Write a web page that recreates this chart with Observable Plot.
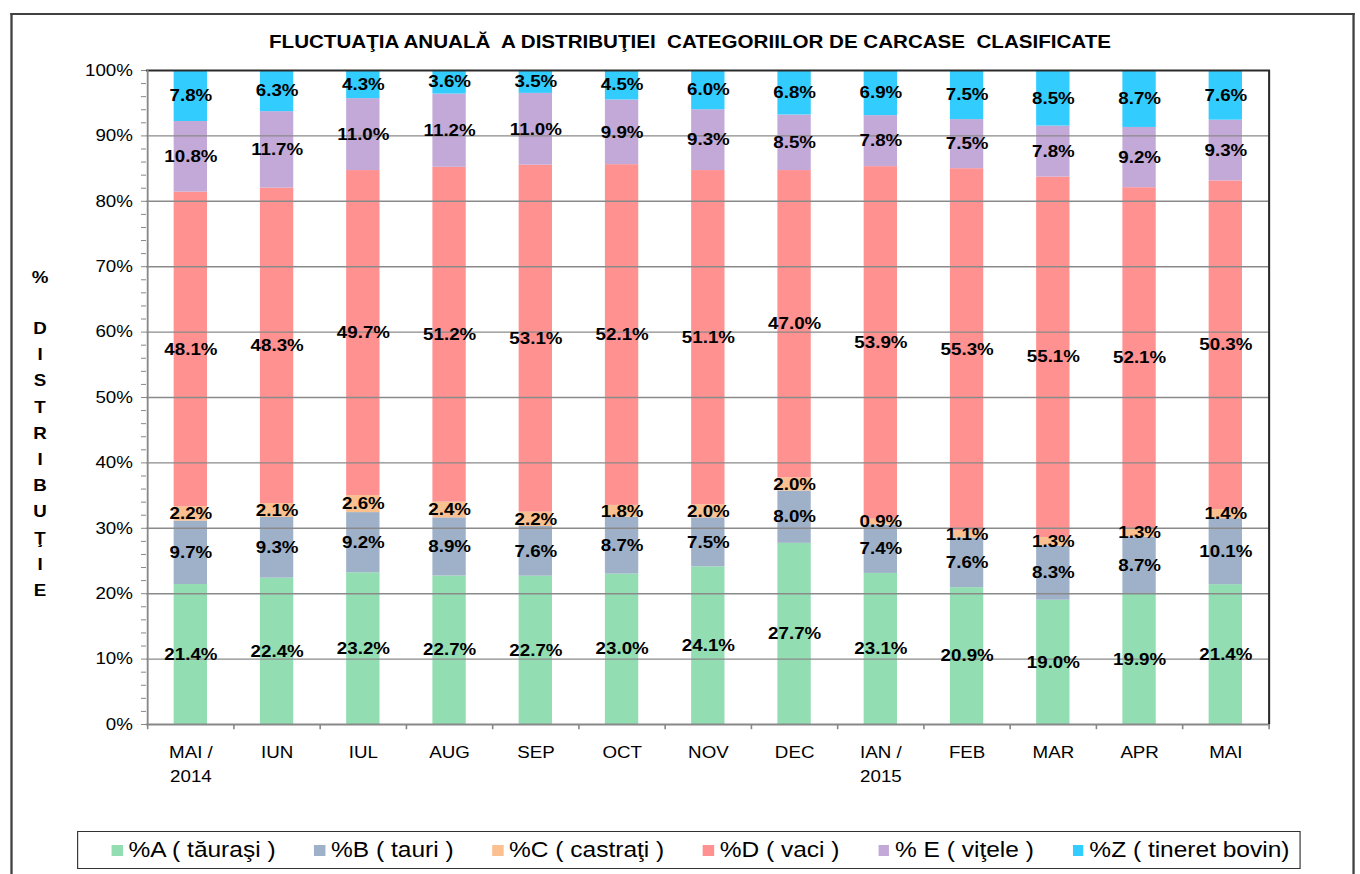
<!DOCTYPE html>
<html><head><meta charset="utf-8">
<script src="https://cdn.jsdelivr.net/npm/d3@7"></script>
<script src="https://cdn.jsdelivr.net/npm/@observablehq/plot@0.6"></script>
<style>
html,body{margin:0;padding:0;background:#fff;overflow:hidden;}
#page{position:relative;width:1182.6px;height:874px;transform:scaleX(1.15);transform-origin:0 0;font-family:"Liberation Sans",Arial,sans-serif;color:#000;}
#frame{position:absolute;left:8.7px;top:13px;width:1169.6px;height:900px;border:2px solid #404040;border-bottom:none;box-sizing:border-box;}
#title{position:absolute;left:0;width:1200px;top:31px;line-height:22px;text-align:center;font-weight:bold;font-size:17.9px;white-space:pre;}
.ylet{position:absolute;left:24.8px;width:20px;text-align:center;font-weight:bold;font-size:16.3px;line-height:20px;}
#chart{position:absolute;left:0;top:0;}
#legend{position:absolute;left:67px;top:831px;width:1063.5px;height:38px;border:1.5px solid #333;box-sizing:border-box;display:flex;align-items:center;padding-left:29px;font-size:21.3px;}
.item{display:flex;align-items:center;margin-right:33.5px;white-space:pre;}
.sw{width:9.6px;height:11px;margin-right:5.2px;}
svg [aria-label="y-axis"] line, svg [aria-label="y-axis"] path.domain, svg [aria-label="y-axis tick"]{stroke:#888 !important;}
</style></head>
<body><div id="page"><div id="frame"></div><div id="title"></div><div id="ylab"></div><div id="chart"></div><div id="legend"></div></div>
<script>
const titleText = "FLUCTUAŢIA ANUALĂ  A DISTRIBUŢIEI  CATEGORIILOR DE CARCASE  CLASIFICATE";
const yLabelLetters = ["%", "D","I","S","T","R","I","B","U","Ţ","I","E"];
const months = ["MAI /\n2014","IUN","IUL","AUG","SEP","OCT","NOV","DEC","IAN /\n2015","FEB","MAR","APR","MAI"];
const seriesNames = ["%A ( tăuraşi )","%B ( tauri )","%C ( castraţi )","%D ( vaci )","% E ( viţele )","%Z ( tineret bovin)"];
const seriesColors = ["#92DDB2","#9FB1C8","#FAC08F","#FF9191","#C3A9D8","#33CCFF"];
const A = [21.4,22.4,23.2,22.7,22.7,23.0,24.1,27.7,23.1,20.9,19.0,19.9,21.4];
const B = [9.7,9.3,9.2,8.9,7.6,8.7,7.5,8.0,7.4,7.6,8.3,8.7,10.1];
const C = [2.2,2.1,2.6,2.4,2.2,1.8,2.0,2.0,0.9,1.1,1.3,1.3,1.4];
const D = [48.1,48.3,49.7,51.2,53.1,52.1,51.1,47.0,53.9,55.3,55.1,52.1,50.3];
const E = [10.8,11.7,11.0,11.2,11.0,9.9,9.3,8.5,7.8,7.5,7.8,9.2,9.3];
const Z = [7.8,6.3,4.3,3.6,3.5,4.5,6.0,6.8,6.9,7.5,8.5,8.7,7.6];
const yMajorTicks = [0,10,20,30,40,50,60,70,80,90,100];
const yMinorStep = 2;

const seriesValues = [A,B,C,D,E,Z];
const rows = [];
seriesValues.forEach((vals, s) => vals.forEach((v, i) => rows.push({month: months[i], series: seriesNames[s], value: v})));

document.getElementById("title").textContent = titleText;
const ylab = document.getElementById("ylab");
yLabelLetters.forEach((ch, i) => {
  const d = document.createElement("div");
  d.className = "ylet";
  const cy = i === 0 ? 277 : 328 + (i - 1) * 26.2;
  d.style.top = (cy - 10) + "px";
  d.textContent = ch;
  ylab.appendChild(d);
});
const legend = document.getElementById("legend");
seriesNames.forEach((n, i) => {
  const it = document.createElement("div"); it.className = "item";
  const sw = document.createElement("div"); sw.className = "sw"; sw.style.background = seriesColors[i];
  const t = document.createElement("span"); t.textContent = n;
  it.appendChild(sw); it.appendChild(t); legend.appendChild(it);
});

const W = 1182.6, H = 800, ML = 126.96, MR = 78.26, MT = 70, MB = 76;
const step = (W - ML - MR) / months.length;
const bw = 29.57;
const pIn = 1 - bw / step;
const minorTicks = d3.range(0, 101, yMinorStep).map(v => v / 100);
const gridVals = yMajorTicks.filter(v => v > 0 && v < 100).map(v => v / 100);

const chart = Plot.plot({
  width: W, height: H, marginLeft: ML, marginRight: MR, marginTop: MT, marginBottom: MB,
  style: {fontFamily: '"Liberation Sans", Arial, sans-serif', fontSize: "16.3px", color: "#000", background: "transparent", overflow: "visible"},
  x: {type: "band", domain: months, paddingInner: pIn, paddingOuter: pIn / 2, align: 0.5, axis: null},
  y: {domain: [0, 1], ticks: minorTicks, tickSize: 4.4, tickPadding: 7.5, label: null,
      tickFormat: d => { const p = Math.round(d * 100); return yMajorTicks.includes(p) ? p + "%" : ""; }},
  color: {domain: seriesNames, range: seriesColors},
  marks: [
    Plot.barY(rows, Plot.stackY({x: "month", y: "value", fill: "series", offset: "normalize"})),
    Plot.ruleY(gridVals, {y: d => d, stroke: "#8a8a8a", strokeWidth: 1.4}),
    Plot.ruleY([0], {y: d => d, stroke: "#888", strokeWidth: 2}),
    Plot.ruleY([1], {y: d => d, stroke: "#2a2a2a", strokeWidth: 2}),
    Plot.ruleX([months[0]], {x: d => d, dx: -step / 2, stroke: "#888", strokeWidth: 1.6}),
    Plot.ruleX([months[months.length - 1]], {x: d => d, dx: step / 2, stroke: "#2a2a2a", strokeWidth: 1.8}),
    Plot.ruleX(months, {x: d => d, dx: -step / 2, y1: 0, y2: -0.008, stroke: "#888", strokeWidth: 1.4}),
    Plot.ruleX([months[months.length - 1]], {x: d => d, dx: step / 2, y1: 0, y2: -0.008, stroke: "#888", strokeWidth: 1.4}),
    Plot.text(rows, Plot.stackY({x: "month", y: "value", z: "series", offset: "normalize",
      text: d => d.value.toFixed(1) + "%", fontWeight: "bold", fontSize: 16.3, fill: "#000"})),
    Plot.text(months, {x: d => d, text: d => d, frameAnchor: "bottom", lineAnchor: "top", dy: 17, fontSize: 16.3, lineHeight: 1.45, fill: "#000"})
  ]
});
document.getElementById("chart").appendChild(chart);
</script>
</body></html>
